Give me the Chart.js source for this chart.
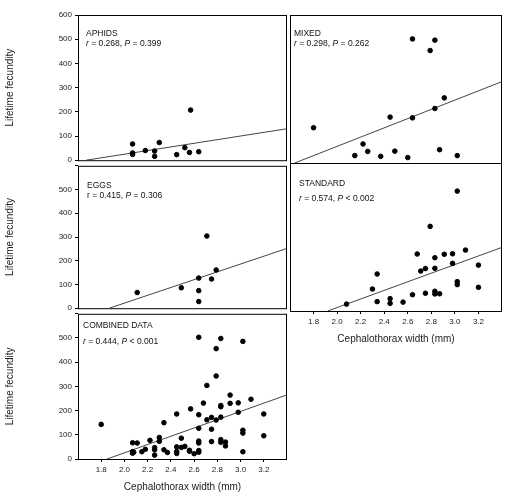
<!DOCTYPE html>
<html><head><meta charset="utf-8">
<script src="https://cdn.jsdelivr.net/npm/chart.js@4.4.1/dist/chart.umd.min.js"></script>
<style>
body{margin:0;background:#fff;width:520px;height:503px;position:relative;overflow:hidden;font-family:"Liberation Sans",Arial,sans-serif}
.box{position:absolute}
.lab{position:absolute;font-size:8.5px;color:#111;line-height:10px;white-space:nowrap}
</style></head><body>
<div class="box" style="left:0;top:0;width:292px;height:168px"><canvas id="c1"></canvas></div>
<div class="box" style="left:285px;top:0;width:222px;height:168px"><canvas id="c2"></canvas></div>
<div class="box" style="left:0;top:158px;width:292px;height:158px"><canvas id="c3"></canvas></div>
<div class="box" style="left:285px;top:158px;width:222px;height:194px"><canvas id="c4"></canvas></div>
<div class="box" style="left:0;top:306px;width:292px;height:194px"><canvas id="c5"></canvas></div>
<div class="lab" style="left:86px;top:28px">APHIDS<br><i>r</i> = 0.268, <i>P</i> = 0.399</div>
<div class="lab" style="left:294px;top:28px">MIXED<br><i>r</i> = 0.298, <i>P</i> = 0.262</div>
<div class="lab" style="left:87px;top:180px">EGGS<br>r = 0.415, <i>P</i> = 0.306</div>
<div class="lab" style="left:299px;top:178px">STANDARD</div>
<div class="lab" style="left:299px;top:193px"><i>r</i> = 0.574, <i>P</i> &lt; 0.002</div>
<div class="lab" style="left:83px;top:320px">COMBINED DATA</div>
<div class="lab" style="left:83px;top:336px"><i>r</i> = 0.444, <i>P</i> &lt; 0.001</div>
<script>
const aphidsX = [2.07,2.07,2.07,2.18,2.26,2.26,2.30,2.45,2.52,2.57,2.56,2.64];
const aphidsY = [67,30,24,40,38,16,73,23,52,207,32,35];
const mixedX = [1.80,2.15,2.22,2.26,2.37,2.45,2.49,2.60,2.64,2.64,2.79,2.83,2.83,2.87,2.91,3.02];
const mixedY = [143,30,77,47,27,186,48,22,503,183,456,498,221,54,264,30];
const eggsX = [2.11,2.49,2.64,2.64,2.64,2.71,2.75,2.79];
const eggsY = [66,86,74,28,127,304,123,161];
const standardX = [2.08,2.30,2.34,2.34,2.45,2.45,2.56,2.64,2.68,2.71,2.75,2.75,2.79,2.83,2.83,2.83,2.83,2.87,2.91,2.98,2.98,3.02,3.02,3.02,3.09,3.20,3.20];
const standardY = [28,89,150,38,50,31,36,66,231,162,172,72,343,216,173,80,69,70,230,232,193,486,119,107,247,186,96];
const combinedX = [...aphidsX,...mixedX,...eggsX,...standardX];
const combinedY = [...aphidsY,...mixedY,...eggsY,...standardY];
// regression line end points [x0,y0,x1,y1]
const fitAphids = [1.67,0,3.4,130];
const fitMixed = [1.64,0,3.4,330];
const fitEggs = [1.87,0,3.4,252];
const fitStandard = [1.92,0,3.4,258];
const fitCombined = [1.85,0,3.4,265];
const xTicks = [1.8,2.0,2.2,2.4,2.6,2.8,3.0,3.2];

const frame = {id:'frame', afterDraw(c){const a=c.chartArea,x=c.ctx;x.save();x.strokeStyle='#000';x.lineWidth=1;x.strokeRect(a.left+0.5,a.top+0.5,a.right-a.left-1,a.bottom-a.top);x.restore();}};
const font = {family:'"Liberation Sans", Arial, sans-serif', size:8};

function panel(id, xs, ys, fit, o){
  const pts = xs.map((v,i)=>({x:v,y:ys[i]}));
  new Chart(document.getElementById(id), {
    type:'scatter',
    data:{datasets:[
      {data:pts, backgroundColor:'#000', borderColor:'#000', pointRadius:2.3},
      {type:'line', data:[{x:fit[0],y:fit[1]},{x:fit[2],y:fit[3]}], borderColor:'#444', borderWidth:1, pointRadius:0}
    ]},
    options:{responsive:true, maintainAspectRatio:false, animation:false,
      layout:{padding:o.pad},
      plugins:{legend:{display:false}, tooltip:{enabled:false}},
      scales:{
        x:{type:'linear', min:1.6, max:3.4, display:o.showX,
          afterBuildTicks(s){s.ticks=xTicks.map(v=>({value:v}));},
          ticks:{font, color:'#222', padding:3, callback:v=>v.toFixed(1)},
          grid:{drawOnChartArea:false, drawTicks:true, tickLength:3, color:'#000'}, border:{display:false},
          title:{display:o.showX, text:'Cephalothorax width (mm)', font:{...font,size:10}, color:'#222', padding:{top:6}},
          afterFit(s){s.height=o.showX?38:0;}},
        y:{min:0, max:600, display:o.showY,
          ticks:{stepSize:100, font, color:'#222', padding:3, callback:v=>(v===600 && !o.top)?'':v},
          grid:{drawOnChartArea:false, drawTicks:true, tickLength:3, color:'#000'}, border:{display:false},
          title:{display:o.showY, text:'Lifetime fecundity', font:{...font,size:10}, color:'#222', padding:{bottom:14}},
          afterFit(s){s.width=o.showY?78:0;}}
      }},
    plugins:[frame]
  });
}
panel('c1', aphidsX, aphidsY, fitAphids, {pad:{top:15,bottom:5,left:0,right:2}, showX:false, showY:true, top:true});
panel('c2', mixedX, mixedY, fitMixed, {pad:{top:15,bottom:5,left:5,right:5}, showX:false, showY:false});
panel('c3', eggsX, eggsY, fitEggs, {pad:{top:5,bottom:5,left:0,right:2}, showX:false, showY:true});
panel('c4', standardX, standardY, fitStandard, {pad:{top:5,bottom:3,left:5,right:5}, showX:true, showY:false});
panel('c5', combinedX, combinedY, fitCombined, {pad:{top:5,bottom:3,left:0,right:2}, showX:true, showY:true});
</script>
</body></html>
